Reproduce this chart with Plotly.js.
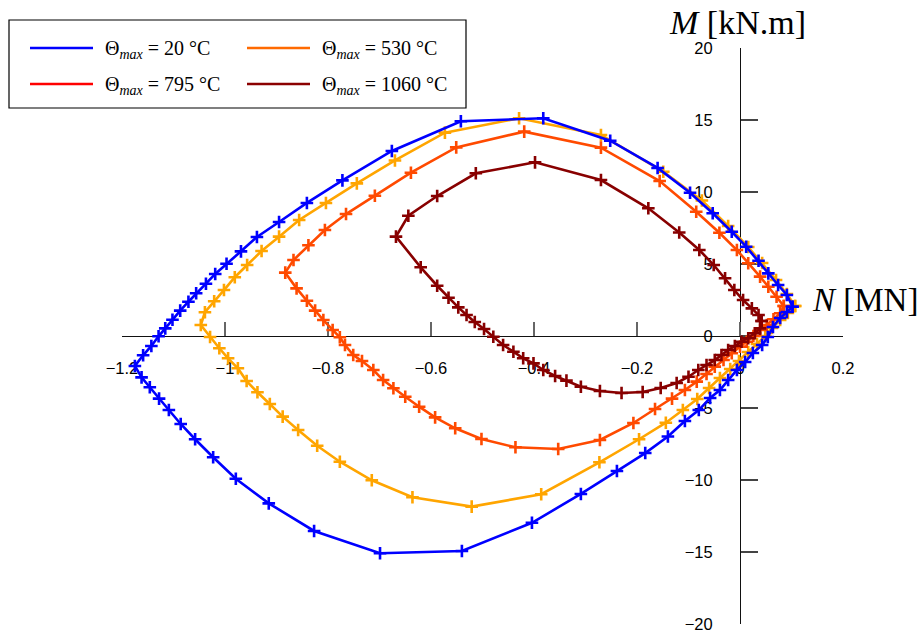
<!DOCTYPE html>
<html><head><meta charset="utf-8">
<script src="https://cdn.plot.ly/plotly-3.0.1.min.js"></script>
<style>html,body{margin:0;padding:0;background:#fff}#chart{width:922px;height:638px}</style>
</head><body><div id="chart"></div>
<script>
// N [MN] and M [kN.m] for each maximum temperature
const N20 = [0.102,0.091,0.074,0.055,0.036,0.012,-0.016,-0.053,-0.097,-0.160,-0.252,-0.382,-0.542,-0.676,-0.772,-0.841,-0.895,-0.938,-0.969,-0.997,-1.019,-1.037,-1.056,-1.071,-1.087,-1.102,-1.116,-1.129,-1.143,-1.159,-1.175,-1.162,-1.146,-1.128,-1.109,-1.086,-1.058,-1.023,-0.979,-0.915,-0.827,-0.699,-0.540,-0.404,-0.309,-0.239,-0.184,-0.140,-0.107,-0.080,-0.058,-0.039,-0.023,-0.006,0.010,0.025,0.043,0.054,0.064,0.078,0.091,0.102];
const M20 = [2.03,2.85,3.54,4.35,5.23,6.20,7.24,8.52,9.95,11.67,13.56,15.12,14.91,12.85,10.81,9.24,7.92,6.88,5.88,5.02,4.31,3.63,2.97,2.38,1.76,1.13,0.53,-0.02,-0.69,-1.34,-2.08,-2.87,-3.56,-4.35,-5.14,-6.11,-7.17,-8.42,-9.91,-11.62,-13.54,-15.09,-14.93,-12.97,-10.97,-9.38,-8.13,-6.98,-5.90,-5.14,-4.31,-3.75,-3.06,-2.36,-1.81,-1.18,-0.63,-0.07,0.63,1.25,1.67,2.03];

const N530 = [0.107,0.091,0.070,0.043,0.016,-0.023,-0.074,-0.149,-0.270,-0.429,-0.573,-0.670,-0.744,-0.804,-0.856,-0.895,-0.929,-0.957,-0.981,-1.002,-1.021,-1.039,-1.047,-1.029,-1.011,-0.994,-0.975,-0.958,-0.937,-0.913,-0.888,-0.858,-0.821,-0.777,-0.715,-0.636,-0.521,-0.386,-0.273,-0.196,-0.144,-0.111,-0.083,-0.060,-0.039,-0.019,-0.002,0.016,0.033,0.049,0.062,0.078,0.093,0.107];
const M530 = [2.08,2.92,3.89,5.07,6.18,7.64,9.41,11.41,13.96,15.12,14.12,12.19,10.60,9.24,8.06,6.90,5.90,4.93,4.08,3.19,2.41,1.65,0.76,-0.07,-0.85,-1.55,-2.24,-3.13,-3.91,-4.72,-5.60,-6.53,-7.62,-8.73,-10.02,-11.20,-11.85,-10.99,-8.77,-7.17,-6.02,-5.14,-4.38,-3.61,-2.92,-2.29,-1.74,-1.11,-0.56,0,0.56,1.11,1.60,2.08];

const N795 = [0.085,0.071,0.055,0.039,0.016,-0.006,-0.040,-0.085,-0.156,-0.270,-0.419,-0.551,-0.639,-0.709,-0.765,-0.806,-0.838,-0.867,-0.883,-0.861,-0.841,-0.825,-0.809,-0.791,-0.777,-0.767,-0.751,-0.734,-0.712,-0.693,-0.673,-0.650,-0.623,-0.592,-0.553,-0.502,-0.436,-0.353,-0.272,-0.207,-0.165,-0.132,-0.107,-0.084,-0.065,-0.049,-0.032,-0.016,0,0.013,0.026,0.039,0.052,0.065,0.078,0.085];
const M795 = [2.08,2.73,3.42,4.12,5.05,5.97,7.17,8.63,10.76,13.08,14.19,13.10,11.34,9.74,8.47,7.36,6.30,5.28,4.40,3.31,2.45,1.76,1.11,0.42,-0.09,-0.63,-1.32,-1.74,-2.36,-3.06,-3.63,-4.22,-4.91,-5.65,-6.41,-7.15,-7.73,-7.85,-7.22,-6.04,-5.07,-4.35,-3.75,-3.17,-2.64,-2.13,-1.67,-1.20,-0.74,-0.40,0,0.42,0.76,1.16,1.58,2.08];

const N1060 = [0.042,0.036,0.023,0.006,-0.011,-0.029,-0.051,-0.079,-0.118,-0.178,-0.270,-0.398,-0.513,-0.588,-0.644,-0.668,-0.620,-0.588,-0.566,-0.547,-0.531,-0.515,-0.497,-0.479,-0.460,-0.440,-0.421,-0.401,-0.382,-0.359,-0.337,-0.309,-0.272,-0.230,-0.189,-0.154,-0.123,-0.100,-0.081,-0.065,-0.049,-0.036,-0.023,-0.010,0.003,0.016,0.029,0.039,0.042];
const M1060 = [1.04,1.46,1.92,2.50,3.19,4.01,4.93,5.97,7.19,8.87,10.83,12.06,11.30,9.72,8.35,6.90,4.77,3.49,2.66,1.99,1.46,0.97,0.49,-0.05,-0.63,-1.09,-1.55,-1.90,-2.36,-2.78,-3.10,-3.52,-3.82,-3.96,-3.89,-3.61,-3.26,-2.83,-2.36,-2.01,-1.67,-1.32,-0.97,-0.69,-0.40,-0.16,0.19,0.53,1.04];

const xTickVals = [-1.2,-1,-0.8,-0.6,-0.4,-0.2,0,0.2];
const xTickText = ['\u22121.2','\u22121','\u22120.8','\u22120.6','\u22120.4','\u22120.2','0','0.2'];
const yTickVals = [-20,-15,-10,-5,0,5,10,15,20];
const yTickText = ['\u221220','\u221215','\u221210','\u22125','0','5','10','15','20'];

const legendLabels = ['\u0398<sub><i>max</i></sub> = 20 \u00B0C','\u0398<sub><i>max</i></sub> = 530 \u00B0C','\u0398<sub><i>max</i></sub> = 795 \u00B0C','\u0398<sub><i>max</i></sub> = 1060 \u00B0C'];
const legendColors = ['#0000ff','#ff6a00','#ff0000','#8b0000'];
const curveColors = {c20:'#0000ff', c530:'#ffa500', c795:'#ff4a00', c1060:'#880000'};

function curve(x, y, color){
  return {x:x, y:y, type:'scatter', mode:'lines+markers', showlegend:false, hoverinfo:'skip',
    line:{color:color, width:2.6},
    marker:{symbol:'cross-thin', size:9, line:{color:color, width:2.6}, color:color},
    cliponaxis:false};
}

const data = [
  curve(N530, M530, curveColors.c530),
  curve(N795, M795, curveColors.c795),
  curve(N1060, M1060, curveColors.c1060),
  curve(N20, M20, curveColors.c20)
];

// pixel -> paper helpers (plot area: x 122..843, y 48..624)
const L=122, T=48, W=721, H=576;
const px = v => (v - L)/W;
const py = v => (T + H - v)/H;

const shapes = [
  {type:'rect', xref:'paper', yref:'paper', x0:px(9), x1:px(466), y0:py(108), y1:py(20), line:{color:'#000', width:1.2}, fillcolor:'#fff', layer:'above'}
];
const annotations = [];
const legPos = [[30,48],[247,48],[30,84],[247,84]];
for (let i=0;i<4;i++){
  const [lx, ly] = legPos[i];
  shapes.push({type:'line', xref:'paper', yref:'paper', x0:px(lx), x1:px(lx+63), y0:py(ly), y1:py(ly), line:{color:legendColors[i], width:2.6}});
  annotations.push({xref:'paper', yref:'paper', x:px(lx+73), y:py(ly+1), xanchor:'left', yanchor:'middle', showarrow:false,
    text:legendLabels[i], font:{family:'Liberation Serif, serif', size:20, color:'#000'}});
}
annotations.push({xref:'paper', yref:'paper', x:px(737), y:py(22), xanchor:'center', yanchor:'middle', showarrow:false,
  text:'<i>M</i> [kN.m]', font:{family:'Liberation Serif, serif', size:34, color:'#000'}});
annotations.push({xref:'paper', yref:'paper', x:px(810), y:py(300), xanchor:'left', yanchor:'middle', showarrow:false,
  text:'<i>N</i> [MN]', font:{family:'Liberation Serif, serif', size:33, color:'#000'}});

const layout = {
  width:922, height:638,
  margin:{l:L, r:922-L-W, t:T, b:638-T-H, pad:0},
  paper_bgcolor:'#fff', plot_bgcolor:'rgba(0,0,0,0)',
  showlegend:false,
  font:{family:'Liberation Sans, Arial, sans-serif', size:16, color:'#000'},
  xaxis:{range:[-1.2,0.2], anchor:'free', position:0.5, showgrid:false, zeroline:false,
    showline:true, linecolor:'#111', linewidth:1.3,
    ticks:'inside', ticklen:14, tickcolor:'#666', tickwidth:1.2,
    tickmode:'array', tickvals:xTickVals, ticktext:xTickText, ticklabelstandoff:17,
    tickfont:{family:'Liberation Sans, Arial, sans-serif', size:16.5, color:'#000'},
    layer:'below traces', fixedrange:true},
  yaxis:{range:[-20,20], anchor:'free', position:1.2/1.4, showgrid:false, zeroline:false,
    showline:true, linecolor:'#111', linewidth:1.3,
    ticks:'inside', ticklen:17, tickcolor:'#444', tickwidth:1.2,
    tickmode:'array', tickvals:yTickVals, ticktext:yTickText, ticklabelstandoff:24,
    tickfont:{family:'Liberation Sans, Arial, sans-serif', size:16.5, color:'#000'},
    layer:'below traces', fixedrange:true},
  shapes:shapes,
  annotations:annotations
};

Plotly.newPlot('chart', data, layout, {displayModeBar:false, staticPlot:true});
</script>
</body></html>
